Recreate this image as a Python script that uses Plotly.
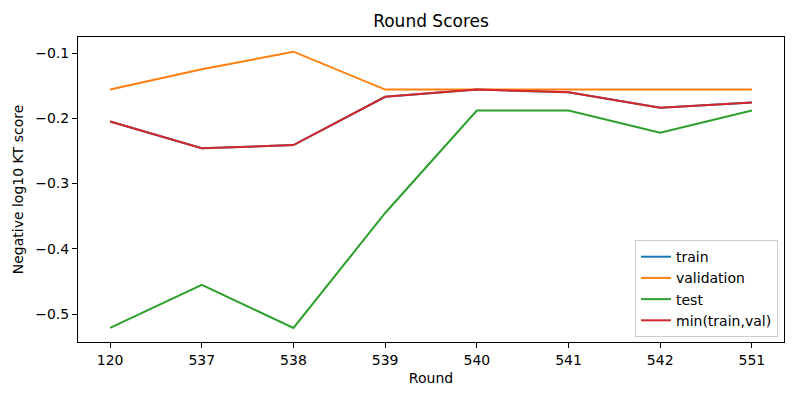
import plotly.graph_objects as go

# Rounds on the x axis (categorical)
rounds = ["120", "537", "538", "539", "540", "541", "542", "551"]

# Negative log10 KT scores per round
train = [-0.205, -0.246, -0.241, -0.167, -0.156, -0.160, -0.184, -0.176]
validation = [-0.156, -0.125, -0.098, -0.156, -0.156, -0.156, -0.156, -0.156]
test = [-0.521, -0.455, -0.521, -0.345, -0.188, -0.188, -0.222, -0.188]
min_train_val = [min(t, v) for t, v in zip(train, validation)]

series = [
    ("train", train, "#1f77b4"),
    ("validation", validation, "#ff7f0e"),
    ("test", test, "#2ca02c"),
    ("min(train,val)", min_train_val, "#d62728"),
]

fig = go.Figure()
for name, values, color in series:
    fig.add_trace(go.Scatter(
        x=rounds, y=values, name=name, mode="lines",
        line=dict(color=color, width=2),
    ))

axis_style = dict(
    showline=True, linecolor="black", linewidth=1, mirror=True,
    ticks="outside", ticklen=5, tickcolor="black",
    showgrid=False, zeroline=False,
    tickfont=dict(size=14),
)

# figure is 784x384 so that with the 8px body margin the page is exactly 800x400
fig.update_layout(
    width=784, height=384,
    margin=dict(l=70, r=8, t=29, b=50),
    paper_bgcolor="white", plot_bgcolor="white",
    font=dict(family="DejaVu Sans", size=14, color="black"),
    title=dict(text="Round Scores", xref="paper", x=0.5, xanchor="center",
               yref="container", y=1 - 13 / 384, yanchor="middle",
               font=dict(size=17)),
    xaxis=dict(type="category", range=[-0.35, 7.35],
               title=dict(text="Round", standoff=6, font=dict(size=14)),
               **axis_style),
    yaxis=dict(range=[-0.5426, -0.0755], tickvals=[-0.5, -0.4, -0.3, -0.2, -0.1],
               tickformat=".1f",
               title=dict(text="Negative log10 KT score", standoff=8, font=dict(size=14)),
               **axis_style),
    legend=dict(x=0.9915, y=0.016, xanchor="right", yanchor="bottom",
                bordercolor="#cccccc", borderwidth=1, bgcolor="rgba(255,255,255,0.8)",
                font=dict(size=14), tracegroupgap=0),
)

fig.write_html("out.html")
